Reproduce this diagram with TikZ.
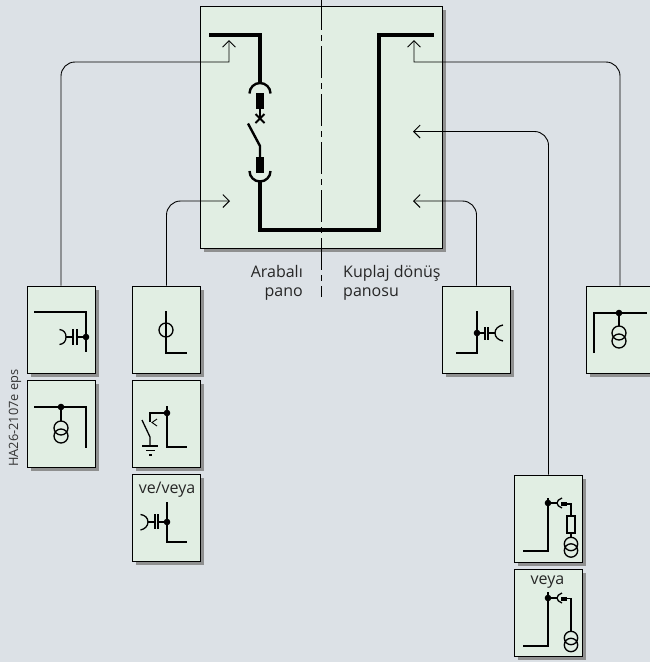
\documentclass[tikz,border=0pt]{standalone}
\usepackage{fontspec}
\setmainfont{Open Sans}
\definecolor{PanelBack}{HTML}{DCE1E6}
\definecolor{PanelGreen}{HTML}{E1EEE3}
\definecolor{PanelShadow}{HTML}{8F9090}
\usetikzlibrary{arrows.meta,shadows,positioning}
\tikzset{
	panel/.style={draw=black, fill=PanelGreen, line width=1pt, inner sep=0pt, minimum width=68pt, minimum height=87pt,
		drop shadow={shadow xshift=3.5pt, shadow yshift=-3.5pt, fill=PanelShadow, opacity=1}},
	feeder/.style={line width=0.9pt, -{Straight Barb[length=6.5pt,width=13pt,line width=0.9pt]}},
	bus/.style={line width=3.4pt, line join=miter},
	wire/.style={line width=1.8pt, line join=miter},
	thinwire/.style={line width=1.3pt},
	caption/.style={font=\fontsize{16}{19}\selectfont, inner sep=0pt, text=black!85},
}
\begin{document}
\begin{tikzpicture}[x=1pt, y=-1pt]
	\useasboundingbox[fill=PanelBack] (0,0) rectangle (650,662);
	\clip (0,0) rectangle (650,662);

	% Hauptfeld und kleine Felder
	\node[panel, minimum width=242pt, minimum height=242pt] (main) at (321,127) {};
	\node[panel] (capA) at (61,329.5) {};
	\node[panel] (vtA) at (61,423.5) {};
	\node[panel] (circB) at (166.5,329.5) {};
	\node[panel] (earthB) at (166.5,423.5) {};
	\node[panel] (capB) at (166.5,517.5) {};
	\node[panel] (capC) at (476.5,329.5) {};
	\node[panel] (vtD) at (620,329.5) {};
	\node[panel] (fuseE) at (548.5,518.5) {};
	\node[panel] (plugE) at (548.5,612.5) {};

	% Mittellinie
	\coordinate (axisTop) at (321,0);
	\coordinate (axisBottom) at (321,297);
	\draw[line width=1pt, dash pattern=on 32pt off 5pt on 6pt off 5pt, dash phase=2pt] (axisTop) -- (axisBottom);

	% Abgaenge
	\coordinate (tipA) at (229,40);
	\coordinate (tipB) at (230,201);
	\coordinate (tipC) at (413,201);
	\coordinate (tipD) at (414,40);
	\coordinate (tipE) at (413,131.5);
	\draw[feeder] (capA.north) [rounded corners=14pt] -- (61,62) -- (120,62) [sharp corners] -- (229,62) -- (tipA);
	\draw[feeder] (circB.north) [rounded corners=14pt] -- (166.5,201) -- (tipB);
	\draw[feeder] (capC.north) [rounded corners=14pt] -- (476.5,201) -- (tipC);
	\draw[feeder] (vtD.north) [rounded corners=14pt] -- (620,62) -- (560,62) [sharp corners] -- (414,62) -- (tipD);
	\draw[feeder] (fuseE.north) [rounded corners=14pt] -- (548.5,131.5) -- (tipE);

	% Schaltbild Hauptfeld
	\draw[bus] (209,35) -- (260,35) -- (260,83);
	\draw[line width=2.4pt] (249.5,93.5) arc[start angle=180, end angle=360, radius=10.5];
	\fill (256,93) rectangle (264,109);
	\draw[line width=2pt] (260,109) -- (260,118);
	\draw[line width=1.8pt] (255.5,114) -- (264.5,123) (264.5,114) -- (255.5,123);
	\draw[line width=2.4pt] (248,123.5) -- (260,146) -- (260,157);
	\fill (256,157) rectangle (264,173);
	\draw[line width=2.4pt] (249.5,171) arc[start angle=180, end angle=0, radius=10.5];
	\draw[bus] (260,181) -- (260,230) -- (379,230) -- (379,35) -- (434,35);

	% Feld links oben
	\draw[wire] (34,312) -- (86,312) -- (86,352);
	\fill (86,337) circle[radius=3.3];
	\draw[thinwire] (86,337) -- (77,337) (73,337) -- (66,337);
	\draw[thinwire] (73,329) -- (73,345) (77,329) -- (77,345);
	\draw[thinwire] (59.5,329.5) .. controls (64,330) and (66,333) .. (66,337) .. controls (66,341) and (64,344) .. (59.5,344.5);

	% Feld links unten
	\draw[wire] (34,407) -- (86,407) -- (86,448);
	\fill (61,407) circle[radius=3.3];
	\draw[thinwire] (61,407) -- (61,421);
	\draw[thinwire] (61,428) circle[radius=7] (61,436) circle[radius=7];

	% Spalte zwei
	\draw[wire] (166,311) -- (166,353) -- (187,353);
	\draw[thinwire] (166,330) circle[radius=7];
	\draw[wire] (167,406) -- (167,447) -- (187,447);
	\fill (167,413) circle[radius=3.3];
	\draw[thinwire] (167,413) -- (150,413) -- (150,422);
	\draw[line width=0.9pt] (157,419) -- (152,422.5) -- (157,426);
	\draw[thinwire] (142,420) -- (150,437) -- (150,446);
	\draw[thinwire] (142,446) -- (158,446) (146,450.5) -- (155,450.5);
	\draw[wire] (149,455) -- (152,455);
	\node[caption] (veveya) at (167,490) {ve/veya};
	\draw[wire] (167,502) -- (167,542) -- (187,542);
	\fill (167,522) circle[radius=3.3];
	\draw[thinwire] (167,522) -- (158,522) (155,522) -- (148,522);
	\draw[thinwire] (155,514) -- (155,529) (158,514) -- (158,529);
	\draw[thinwire] (140.5,514.5) .. controls (145,515) and (148,518) .. (148,522) .. controls (148,526) and (145,529) .. (140.5,530);

	% Feld Kupplung
	\draw[wire] (477,311) -- (477,353) -- (456,353);
	\fill (477,333) circle[radius=3.3];
	\draw[thinwire] (477,333) -- (485,333) (488,333) -- (495,333);
	\draw[thinwire] (485,327) -- (485,340) (488,327) -- (488,340);
	\draw[thinwire] (503,325) .. controls (498,326) and (495,329) .. (495,333) .. controls (495,337) and (498,340) .. (503,341);

	% Feld rechts
	\draw[wire] (594,353) -- (594,313) -- (647,313);
	\fill (619,313) circle[radius=3.3];
	\draw[thinwire] (619,313) -- (619,326);
	\draw[thinwire] (619,333) circle[radius=7] (619,341) circle[radius=7];

	% Spalte unten rechts
	\draw[wire] (548,498) -- (548,551) -- (523,551);
	\fill (548,503) circle[radius=3.3];
	\draw[thinwire] (548,503) -- (557,503);
	\draw[thinwire] (562,498) .. controls (559,499) and (557,501) .. (557,503) .. controls (557,505) and (559,507) .. (562,508);
	\fill (561,502) rectangle (567,506);
	\draw[thinwire] (567,504) -- (571,504) -- (571,516);
	\draw[thinwire] (567,516) rectangle (575,533);
	\draw[thinwire] (571,533) -- (571,537);
	\draw[thinwire] (571,544) circle[radius=6.7] (571,550.5) circle[radius=6.7];
	\node[caption] (veya) at (547.5,582) {veya};
	\draw[wire] (548,592) -- (548,646) -- (523,646);
	\fill (548,598) circle[radius=3.3];
	\draw[thinwire] (548,598) -- (557,598);
	\draw[thinwire] (562,593) .. controls (559,594) and (557,596) .. (557,598) .. controls (557,600) and (559,602) .. (562,603);
	\fill (561,596.5) rectangle (567,600.5);
	\draw[thinwire] (567,598.5) -- (571,598.5) -- (571,631);
	\draw[thinwire] (571,638) circle[radius=6.7] (571,645) circle[radius=6.7];

	% Beschriftung
	\node[caption, align=right, anchor=east] (arabali) at (303,282.5) {Arabalı\\pano};
	\node[caption, align=left, anchor=west] (kuplaj) at (343,282.5) {Kuplaj dönüş\\panosu};
	\node[font=\fontsize{12.8}{15}\selectfont, inner sep=0pt, rotate=90, anchor=west, text=black!80] (hacode) at (15,467) {HA26-2107e eps};
\end{tikzpicture}
\end{document}
